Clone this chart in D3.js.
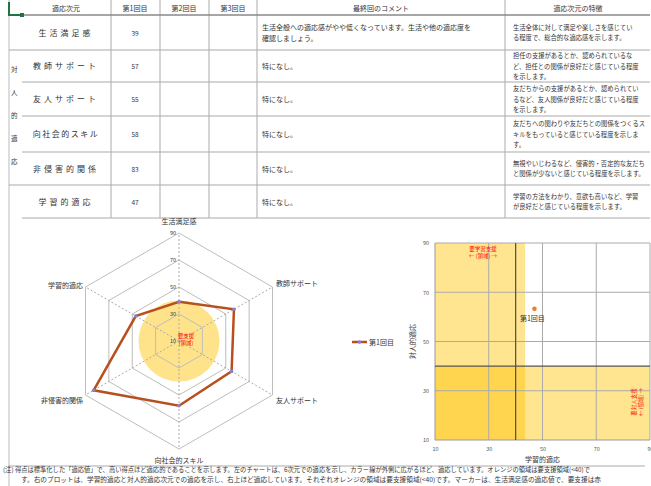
<html>
<head>
<meta charset="utf-8">
<script src="https://d3js.org/d3.v7.min.js"></script>
<style>
  body { margin: 0; background: #fff; }
  text { font-family: "Noto Sans CJK JP", sans-serif; fill: #333; }
</style>
<script>
  // --- data ---
  var dims = ["生活満足感", "教師サポート", "友人サポート", "向社会的スキル", "非侵害的関係", "学習的適応"];
  var round1 = [39, 57, 55, 58, 83, 47];
  var headers = ["適応次元", "第1回目", "第2回目", "第3回目", "最終回のコメント", "適応次元の特徴"];
  var groupLabel = "対人的適応";
  var comments = [
    ["生活全般への適応感がやや低くなっています。生活や他の適応度を", "確認しましょう。"],
    ["特になし。"], ["特になし。"], ["特になし。"], ["特になし。"], ["特になし。"]
  ];
  var features = [
    ["生活全体に対して満足や楽しさを感じてい", "る程度で、総合的な適応感を示します。"],
    ["担任の支援があるとか、認められているな", "ど、担任との関係が良好だと感じている程度", "を示します。"],
    ["友だちからの支援があるとか、認められてい", "るなど、友人関係が良好だと感じている程度", "を示します。"],
    ["友だちへの関わりや友だちとの関係をつくるス", "キルをもっていると感じている程度を示しま", "す。"],
    ["無視やいじわるなど、侵害的・否定的な友だち", "と関係が少ないと感じている程度を示します。"],
    ["学習の方法をわかり、意欲も高いなど、学習", "が良好だと感じている程度を示します。"]
  ];
  var radarTicks = [10, 30, 50, 70, 90];
  var radarRings = [30, 50, 70, 90];
  var plotTicks = [10, 30, 50, 70, 90];
  var supportCut = 40;
  var bandLearn = [10, 43.5];
  var bandSocial = [10, 40];
  var seriesName = "第1回目";
  var noteLines = [
    "(注) 得点は標準化した「適応値」で、高い得点ほど適応的であることを示します。左のチャートは、6次元での適応を示し、カラー線が外側に広がるほど、適応しています。オレンジの領域は要支援領域(<40)で",
    "す。右のプロットは、学習的適応と対人的適応次元での適応を示し、右上ほど適応しています。それぞれオレンジの領域は要支援領域(<40)です。マーカーは、生活満足感の適応値で、要支援は赤"
  ];

  function draw() {
    var svg = d3.select("#sheet");
    var colX = [9, 111, 160, 209, 257, 505, 650];
    var rowY = [0, 15, 50, 82, 116, 152, 185, 218];
    var grid = "#aaa";

    // table lines
    svg.append("line").attr("x1", 9).attr("x2", 9).attr("y1", 0).attr("y2", 486)
      .attr("stroke", "#bbb");
    colX.slice(1, 6).forEach(function (x) {
      svg.append("line").attr("x1", x).attr("x2", x).attr("y1", 0).attr("y2", rowY[7])
        .attr("stroke", grid);
    });
    rowY.slice(1).forEach(function (y, i) {
      var full = (i === 0 || i === 1 || i === 5);
      svg.append("line").attr("x1", full ? 9 : 22).attr("x2", 650).attr("y1", y).attr("y2", y)
        .attr("stroke", i === 0 ? "#888" : grid).attr("stroke-width", i === 0 ? 1.5 : 1.2);
    });
    // selection corner
    svg.append("path").attr("d", "M9,2V15H22").attr("fill", "none")
      .attr("stroke", "#217346").attr("stroke-width", 2);
    svg.append("rect").attr("x", 20).attr("y", 13).attr("width", 4).attr("height", 4).attr("fill", "#217346");

    // header
    var headX = [66, 135, 184, 233, 381, 578];
    svg.selectAll("text.head").data(headers).enter().append("text").attr("class", "head")
      .attr("x", function (d, i) { return headX[i]; }).attr("y", 11)
      .attr("text-anchor", "middle").attr("font-size", 7).text(function (d) { return d; });

    // rows
    dims.forEach(function (d, i) {
      var cy = (rowY[i + 1] + rowY[i + 2]) / 2;
      svg.append("text").attr("x", 66).attr("y", cy + 3).attr("text-anchor", "middle")
        .attr("font-size", 8).attr("letter-spacing", d.length > 6 ? 1.5 : 3).text(d);
      svg.append("text").attr("x", 135).attr("y", cy + 3).attr("text-anchor", "middle")
        .attr("font-size", 6.5).text(round1[i]);
      var c = comments[i];
      c.forEach(function (t, k) {
        svg.append("text").attr("x", 262).attr("y", cy + 3 + (k - (c.length - 1) / 2) * 11)
          .attr("font-size", 7).text(t);
      });
      var f = features[i];
      f.forEach(function (t, k) {
        svg.append("text").attr("x", 513).attr("y", cy + 2.5 + (k - (f.length - 1) / 2) * 10.5)
          .attr("font-size", 6.3).text(t);
      });
    });
    groupLabel.split("").forEach(function (ch, k) {
      svg.append("text").attr("x", 11).attr("y", 72 + k * 23).attr("font-size", 6.5).text(ch);
    });

    // --- radar ---
    var cx = 179, cy = 341;
    var r = d3.scaleLinear().domain([10, 90]).range([0, 108]);
    var step = Math.PI * 2 / dims.length;
    var radial = d3.lineRadial().angle(function (d, i) { return i * step; })
      .radius(function (d) { return r(d); }).curve(d3.curveLinearClosed);
    var rg = svg.append("g").attr("transform", "translate(" + cx + "," + cy + ")");

    rg.append("circle").attr("r", r(supportCut)).attr("fill", "#FFE38A");
    rg.selectAll("path.ring").data(radarRings).enter().append("path").attr("class", "ring")
      .attr("d", function (v) { return radial(dims.map(function () { return v; })); })
      .attr("fill", "none").attr("stroke", "#bdbdbd").attr("stroke-width", 1);
    rg.selectAll("line.spoke").data(dims).enter().append("line").attr("class", "spoke")
      .attr("x2", function (d, i) { return r(90) * Math.sin(i * step); })
      .attr("y2", function (d, i) { return -r(90) * Math.cos(i * step); })
      .attr("stroke", "#aaa").attr("stroke-dasharray", "2,2");
    rg.selectAll("text.rt").data(radarTicks).enter().append("text").attr("class", "rt")
      .attr("x", -3).attr("y", function (v) { return -r(v) + 2; })
      .attr("text-anchor", "end").attr("font-size", 5.5).attr("fill", "#666").text(function (v) { return v; });
    rg.append("text").attr("x", 7).attr("y", -3).attr("text-anchor", "middle").attr("font-size", 5.5)
      .style("fill", "#f00").text("要支援");
    rg.append("text").attr("x", 7).attr("y", 4).attr("text-anchor", "middle").attr("font-size", 5.5)
      .style("fill", "#f00").text("(領域)");

    rg.append("path").attr("d", radial(round1)).attr("fill", "none")
      .attr("stroke", "#B8501E").attr("stroke-width", 2.5);
    rg.selectAll("circle.pt").data(round1).enter().append("circle").attr("class", "pt")
      .attr("cx", function (d, i) { return r(d) * Math.sin(i * step); })
      .attr("cy", function (d, i) { return -r(d) * Math.cos(i * step); })
      .attr("r", 1.8).attr("fill", "#8a7fd0");

    var labPos = [[0, -117, "middle"], [97, -55, "start"], [97, 62, "start"],
                  [0, 122, "middle"], [-96, 62, "end"], [-96, -53, "end"]];
    rg.selectAll("text.ax").data(dims).enter().append("text").attr("class", "ax")
      .attr("x", function (d, i) { return labPos[i][0]; })
      .attr("y", function (d, i) { return labPos[i][1]; })
      .attr("text-anchor", function (d, i) { return labPos[i][2]; })
      .attr("font-size", 7).text(function (d) { return d; });

    // legend
    svg.append("line").attr("x1", 352).attr("x2", 367).attr("y1", 342).attr("y2", 342)
      .attr("stroke", "#B8501E").attr("stroke-width", 2.5);
    svg.append("circle").attr("cx", 359.5).attr("cy", 342).attr("r", 1.8).attr("fill", "#8a7fd0");
    svg.append("text").attr("x", 369).attr("y", 345).attr("font-size", 7).text(seriesName);

    // --- scatter ---
    var xS = d3.scaleLinear().domain([10, 90]).range([435, 650]);
    var yS = d3.scaleLinear().domain([10, 90]).range([440, 243]);
    var light = "#FFE58F", dark = "#FFD54F";
    svg.append("rect").attr("x", xS(bandLearn[0])).attr("width", xS(bandLearn[1]) - xS(bandLearn[0]))
      .attr("y", yS(90)).attr("height", yS(10) - yS(90)).attr("fill", light);
    svg.append("rect").attr("x", xS(10)).attr("width", xS(90) - xS(10))
      .attr("y", yS(bandSocial[1])).attr("height", yS(bandSocial[0]) - yS(bandSocial[1])).attr("fill", light);
    svg.append("rect").attr("x", xS(bandLearn[0])).attr("width", xS(bandLearn[1]) - xS(bandLearn[0]))
      .attr("y", yS(bandSocial[1])).attr("height", yS(bandSocial[0]) - yS(bandSocial[1])).attr("fill", dark);

    var sg = svg.append("g");
    sg.selectAll("line.vx").data(plotTicks.slice(1)).enter().append("line").attr("class", "vx")
      .attr("x1", xS).attr("x2", xS).attr("y1", yS(90)).attr("y2", yS(10))
      .attr("stroke", "#aaa");
    sg.selectAll("line.hy").data(plotTicks.slice(1)).enter().append("line").attr("class", "hy")
      .attr("x1", xS(10)).attr("x2", xS(90)).attr("y1", yS).attr("y2", yS)
      .attr("stroke", "#aaa");
    sg.append("line").attr("x1", xS(10)).attr("x2", xS(10)).attr("y1", yS(90)).attr("y2", yS(10)).attr("stroke", "#999");
    sg.append("line").attr("x1", xS(10)).attr("x2", xS(90)).attr("y1", yS(10)).attr("y2", yS(10)).attr("stroke", "#999");
    sg.append("line").attr("x1", xS(supportCut)).attr("x2", xS(supportCut)).attr("y1", yS(90)).attr("y2", yS(10))
      .attr("stroke", "#555").attr("stroke-width", 1.3);
    sg.append("line").attr("x1", xS(10)).attr("x2", xS(90)).attr("y1", yS(supportCut)).attr("y2", yS(supportCut))
      .attr("stroke", "#555").attr("stroke-width", 1.3);

    var ax = svg.append("g").attr("transform", "translate(0," + (yS(10) + 3) + ")")
      .call(d3.axisBottom(xS).tickValues(plotTicks).tickSize(0));
    var ay = svg.append("g").attr("transform", "translate(" + (xS(10) - 3) + ",0)")
      .call(d3.axisLeft(yS).tickValues(plotTicks).tickSize(0));
    [ax, ay].forEach(function (a) {
      a.select(".domain").remove();
      a.selectAll("text").attr("font-size", 5.5).style("fill", "#555")
        .style("font-family", "Noto Sans CJK JP, sans-serif");
    });
    ax.selectAll("text").attr("dy", "0.9em");

    svg.append("text").attr("x", xS(50)).attr("y", 462).attr("text-anchor", "middle")
      .attr("font-size", 7).text("学習的適応");
    svg.append("text").attr("transform", "translate(415," + yS(50) + ") rotate(-90)")
      .attr("text-anchor", "middle").attr("font-size", 7).text("対人的適応");

    // support labels
    var red = function (sel) { return sel.attr("font-size", 5.5).attr("text-anchor", "middle").style("fill", "#f00"); };
    red(svg.append("text").attr("x", 483).attr("y", 251)).text("要学習支援");
    red(svg.append("text").attr("x", 483).attr("y", 258)).text("←  (領域)  →");
    red(svg.append("text").attr("transform", "translate(636,402) rotate(-90)")).text("要対人支援");
    red(svg.append("text").attr("transform", "translate(643,402) rotate(-90)")).text("←  (領域)  →");

    // point
    var social = d3.mean(round1.slice(1, 5));
    var px = xS(round1[5]), py = yS(social);
    svg.append("circle").attr("cx", px).attr("cy", py).attr("r", 2.3).attr("fill", "#ED7D31");
    svg.append("text").attr("x", px - 2).attr("y", py + 12).attr("text-anchor", "middle")
      .attr("font-size", 7).text(seriesName);

    // note
    svg.append("line").attr("x1", 9).attr("x2", 645).attr("y1", 466).attr("y2", 466).attr("stroke", "#aaa");
    svg.append("text").attr("x", 3).attr("y", 472).attr("font-size", 6.3)
      .attr("textLength", 587).attr("lengthAdjust", "spacingAndGlyphs").text(noteLines[0]);
    svg.append("text").attr("x", 21).attr("y", 482).attr("font-size", 6.3)
      .attr("textLength", 580).attr("lengthAdjust", "spacingAndGlyphs").text(noteLines[1]);
  }
</script>
</head>
<body onload="draw()">
  <svg id="sheet" width="651" height="486"></svg>
</body>
</html>
